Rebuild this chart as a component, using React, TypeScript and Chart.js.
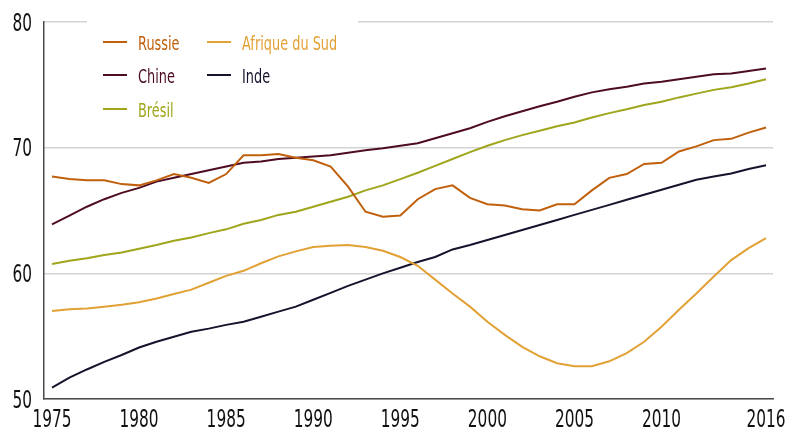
import React, { useEffect, useRef } from "react";
import { Chart, registerables } from "chart.js";

Chart.register(...registerables);

const years = [
  1975, 1976, 1977, 1978, 1979, 1980, 1981, 1982, 1983, 1984,
  1985, 1986, 1987, 1988, 1989, 1990, 1991, 1992, 1993, 1994,
  1995, 1996, 1997, 1998, 1999, 2000, 2001, 2002, 2003, 2004,
  2005, 2006, 2007, 2008, 2009, 2010, 2011, 2012, 2013, 2014,
  2015, 2016,
];

const russie = [
  67.7, 67.5, 67.4, 67.4, 67.1, 67.0, 67.4, 67.9, 67.6, 67.2,
  67.9, 69.4, 69.4, 69.5, 69.2, 69.0, 68.5, 66.9, 64.9, 64.5,
  64.6, 65.9, 66.7, 67.0, 66.0, 65.5, 65.4, 65.1, 65.0, 65.5,
  65.5, 66.6, 67.6, 67.9, 68.7, 68.8, 69.7, 70.1, 70.6, 70.7,
  71.2, 71.6,
];

const chine = [
  63.9, 64.6, 65.3, 65.9, 66.4, 66.8, 67.3, 67.6, 67.9, 68.2,
  68.5, 68.8, 68.9, 69.1, 69.2, 69.3, 69.4, 69.6, 69.8, 69.95,
  70.15, 70.35, 70.75, 71.15, 71.55, 72.05, 72.5, 72.9, 73.3, 73.65,
  74.05, 74.4, 74.65, 74.85, 75.1, 75.25, 75.45, 75.65, 75.85, 75.9,
  76.1, 76.3,
];

const bresil = [
  60.75, 61.0, 61.2, 61.45, 61.65, 61.95, 62.25, 62.6, 62.85, 63.2,
  63.5, 63.95, 64.25, 64.65, 64.9, 65.3, 65.7, 66.1, 66.6, 67.0,
  67.5, 68.0, 68.55, 69.1, 69.65, 70.15, 70.6, 71.0, 71.35, 71.7,
  72.0, 72.4, 72.75, 73.05, 73.4, 73.65, 74.0, 74.3, 74.6, 74.8,
  75.1, 75.45,
];

const afriqueDuSud = [
  57.0, 57.15, 57.2, 57.35, 57.5, 57.7, 58.0, 58.35, 58.7, 59.25,
  59.8, 60.2, 60.8, 61.35, 61.75, 62.1, 62.2, 62.25, 62.1, 61.8,
  61.3, 60.6, 59.5, 58.4, 57.35, 56.15, 55.1, 54.15, 53.4, 52.85,
  52.6, 52.6, 53.0, 53.65, 54.55, 55.75, 57.1, 58.4, 59.75, 61.05,
  62.0, 62.8,
];

const inde = [
  50.9, 51.7, 52.35, 52.95, 53.5, 54.1, 54.55, 54.95, 55.35, 55.6,
  55.9, 56.15, 56.55, 56.95, 57.35, 57.9, 58.45, 59.0, 59.5, 60.0,
  60.45, 60.9, 61.3, 61.9, 62.25, 62.65, 63.05, 63.45, 63.85, 64.25,
  64.65, 65.05, 65.45, 65.85, 66.25, 66.65, 67.05, 67.45, 67.7, 67.95,
  68.3, 68.6,
];

const xTickYears = [1975, 1980, 1985, 1990, 1995, 2000, 2005, 2010, 2016];
const yTicks = [50, 60, 70, 80];

const seriesNames = ["Russie", "Afrique du Sud", "Chine", "Inde", "Brésil"];
const seriesColors = ["#c0600c", "#e2a135", "#4e0c22", "#14142c", "#9fa61c"];
const seriesValues = [russie, afriqueDuSud, chine, inde, bresil];

const FONT = "'DejaVu Sans', sans-serif";
const SQUEEZE = 0.64;

function drawNarrowText(
  ctx: CanvasRenderingContext2D,
  text: string,
  x: number,
  y: number,
  align: CanvasTextAlign,
  sx: number
) {
  ctx.save();
  ctx.translate(x, y);
  ctx.scale(sx, 1);
  ctx.textAlign = align;
  ctx.textBaseline = "alphabetic";
  ctx.fillText(text, 0, 0);
  ctx.restore();
}

const textPlugin = {
  id: "narrowTexts",
  afterDraw(chart: any) {
    const ctx: CanvasRenderingContext2D = chart.ctx;
    const xs = chart.scales.x;
    const ys = chart.scales.y;
    ctx.save();

    // axis tick labels, positioned through the chart's own scales
    ctx.font = `24px ${FONT}`;
    ctx.fillStyle = "#111111";
    xTickYears.forEach((yr) => {
      drawNarrowText(ctx, String(yr), xs.getPixelForValue(yr), 427, "center", SQUEEZE);
    });
    yTicks.forEach((v) => {
      drawNarrowText(ctx, String(v), ys.left + 32, ys.getPixelForValue(v) + 8.5, "right", SQUEEZE);
    });

    // legend
    ctx.fillStyle = "#ffffff";
    ctx.fillRect(87, 16, 271, 20);
    const positions = [
      [103, 42],
      [207, 42],
      [103, 75],
      [207, 75],
      [103, 109],
    ];
    ctx.font = `20px ${FONT}`;
    seriesNames.forEach((name, i) => {
      const [x, y] = positions[i];
      ctx.strokeStyle = seriesColors[i];
      ctx.lineWidth = 2;
      ctx.beginPath();
      ctx.moveTo(x, y);
      ctx.lineTo(x + 24, y);
      ctx.stroke();
      ctx.fillStyle = seriesColors[i];
      drawNarrowText(ctx, name, x + 35, y + 7.5, "left", 0.645);
    });
    ctx.restore();
  },
};

export default function App() {
  const canvasRef = useRef<HTMLCanvasElement | null>(null);

  useEffect(() => {
    document.body.style.margin = "0";
    const canvas = canvasRef.current;
    if (!canvas) return;
    const chart = new Chart(canvas, {
      type: "line",
      data: {
        datasets: seriesNames.map((name, i) => ({
          label: name,
          data: years.map((yr, j) => ({ x: yr, y: seriesValues[i][j] })),
          borderColor: seriesColors[i],
          backgroundColor: seriesColors[i],
          borderWidth: 2,
          pointRadius: 0,
          tension: 0,
          fill: false,
        })),
      },
      options: {
        responsive: false,
        animation: false,
        layout: { padding: { top: 22, right: 15, left: 0, bottom: 0 } },
        plugins: {
          legend: { display: false },
          tooltip: { enabled: false },
        },
        scales: {
          x: {
            type: "linear",
            min: 1974.54,
            max: 2016.4,
            afterBuildTicks: (scale: any) => {
              scale.ticks = xTickYears.map((v) => ({ value: v }));
            },
            afterFit: (scale: any) => {
              scale.height = 30;
            },
            grid: { display: false, drawTicks: false },
            border: { display: true, color: "#4a4a4a", width: 1.5 },
            ticks: { display: false },
          },
          y: {
            type: "linear",
            min: 50,
            max: 80,
            afterBuildTicks: (scale: any) => {
              scale.ticks = yTicks.map((v) => ({ value: v }));
            },
            afterFit: (scale: any) => {
              scale.width = 44;
            },
            grid: { color: "#d4d4d4", lineWidth: 1.5, drawTicks: false },
            border: { display: true, color: "#4a4a4a", width: 1.5 },
            ticks: { display: false },
          },
        },
      },
      plugins: [textPlugin],
    });
    return () => chart.destroy();
  }, []);

  return (
    <div style={{ width: 788, height: 429 }}>
      <canvas ref={canvasRef} width={788} height={429} />
    </div>
  );
}
